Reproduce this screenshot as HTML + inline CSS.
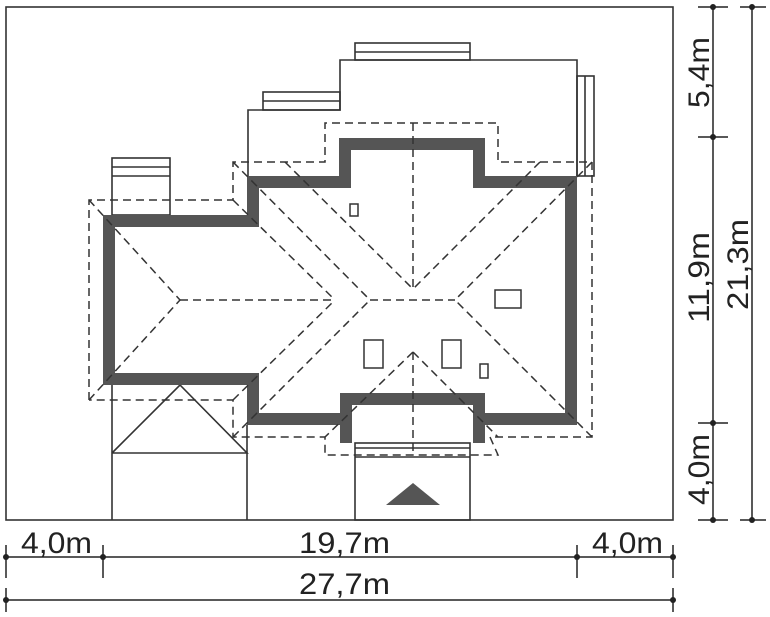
<!DOCTYPE html>
<html><head><meta charset="utf-8"><style>
body{margin:0;background:#fff;}
svg{display:block;}
text{font-family:"Liberation Sans",sans-serif;font-size:30px;fill:#222;}
</style></head><body>
<svg width="770" height="617" viewBox="0 0 770 617" xmlns="http://www.w3.org/2000/svg">
<g fill="none" stroke="#333" stroke-width="1.6">
<rect x="6" y="7" width="667" height="513"/>
<polyline points="248,176 248,110 340,110 340,60 577,60 577,176"/>
<rect x="355" y="43" width="115" height="17"/><line x1="355" y1="52" x2="470" y2="52"/>
<rect x="263" y="92" width="77" height="18"/><line x1="263" y1="101" x2="340" y2="101"/>
<rect x="112" y="158" width="58" height="57"/><line x1="112" y1="167" x2="170" y2="167"/><line x1="112" y1="176" x2="170" y2="176"/>
<rect x="577" y="76" width="17" height="100"/><line x1="585" y1="76" x2="585" y2="176"/>
<polyline points="112,385 112,520"/><polyline points="247,425 247,520"/>
<polyline points="112,453 180,385 247,453 112,453"/>
<rect x="355" y="443" width="115" height="77"/>
<line x1="355" y1="448" x2="470" y2="448"/><line x1="355" y1="457" x2="470" y2="457"/>
</g>
<polygon points="386,505 413,483 440,505" fill="#555"/>
<path fill="#555" fill-rule="evenodd" d="M103,215 L247,215 L247,176 L339,176 L339,138 L485,138 L485,176 L577,176 L577,425 L485,425 L485,443 L473,443 L473,405 L352,405 L352,443 L340,443 L340,425 L247,425 L247,385 L103,385 Z
M115,227 L259,227 L259,188 L351,188 L351,150 L473,150 L473,188 L565,188 L565,413 L485,413 L485,393 L340,393 L340,413 L259,413 L259,373 L115,373 Z"/>
<g fill="none" stroke="#333" stroke-width="1.5" stroke-dasharray="8,5">
<polyline points="89,400 89,200 233,200 233,162 325,162 325,123 498,123 498,162 592,162 592,437 490,437 498,455 498,455 325,455 325,437 233,437 233,400 89,400"/>
<line x1="89" y1="200" x2="180" y2="300"/><line x1="89" y1="400" x2="180" y2="300"/>
<line x1="180" y1="300" x2="335" y2="300"/>
<line x1="233" y1="200" x2="335" y2="300"/><line x1="233" y1="400" x2="335" y2="300"/>
<line x1="233" y1="162" x2="370" y2="300"/><line x1="233" y1="437" x2="370" y2="300"/>
<line x1="285" y1="162" x2="413" y2="289"/><line x1="540" y1="162" x2="413" y2="289"/>
<line x1="413" y1="123" x2="413" y2="289"/>
<line x1="370" y1="300" x2="455" y2="300"/>
<line x1="592" y1="162" x2="455" y2="300"/><line x1="592" y1="437" x2="455" y2="300"/>
<line x1="413" y1="352" x2="413" y2="455"/>
<line x1="413" y1="352" x2="325" y2="437"/><line x1="413" y1="352" x2="498" y2="437"/>
</g>
<g fill="#fff" stroke="#333" stroke-width="1.5">
<rect x="350" y="204" width="8" height="12"/>
<rect x="495" y="290" width="26" height="18"/>
<rect x="364" y="340" width="19" height="28"/>
<rect x="442" y="340" width="19" height="28"/>
<rect x="480" y="364" width="8" height="14"/>
</g>
<g stroke="#222" stroke-width="1.5">
<line x1="713" y1="7" x2="713" y2="520"/><line x1="752" y1="7" x2="752" y2="520"/>
<line x1="698" y1="7" x2="728" y2="7"/><line x1="698" y1="137" x2="728" y2="137"/><line x1="698" y1="423" x2="728" y2="423"/><line x1="698" y1="520" x2="728" y2="520"/>
<line x1="740" y1="7" x2="766" y2="7"/><line x1="740" y1="520" x2="766" y2="520"/>
<line x1="6" y1="557" x2="673" y2="557"/><line x1="6" y1="600" x2="673" y2="600"/>
<line x1="6" y1="545" x2="6" y2="578"/><line x1="103" y1="545" x2="103" y2="578"/><line x1="577" y1="545" x2="577" y2="578"/><line x1="673" y1="545" x2="673" y2="578"/>
<line x1="6" y1="588" x2="6" y2="612"/><line x1="673" y1="588" x2="673" y2="612"/>
</g>
<g fill="#222">
<circle cx="713" cy="7" r="3"/><circle cx="713" cy="137" r="3"/><circle cx="713" cy="423" r="3"/><circle cx="713" cy="520" r="3"/>
<circle cx="752" cy="7" r="3"/><circle cx="752" cy="520" r="3"/>
<circle cx="6" cy="557" r="3"/><circle cx="103" cy="557" r="3"/><circle cx="577" cy="557" r="3"/><circle cx="673" cy="557" r="3"/>
<circle cx="6" cy="600" r="3"/><circle cx="673" cy="600" r="3"/>
</g>
<text x="21" y="553" textLength="71" lengthAdjust="spacingAndGlyphs">4,0m</text>
<text x="299" y="553" textLength="91" lengthAdjust="spacingAndGlyphs">19,7m</text>
<text x="592" y="553" textLength="71" lengthAdjust="spacingAndGlyphs">4,0m</text>
<text x="299" y="594" textLength="91" lengthAdjust="spacingAndGlyphs">27,7m</text>
<text transform="translate(709,108) rotate(-90)" textLength="71" lengthAdjust="spacingAndGlyphs">5,4m</text>
<text transform="translate(709,323) rotate(-90)" textLength="91" lengthAdjust="spacingAndGlyphs">11,9m</text>
<text transform="translate(748,310) rotate(-90)" textLength="91" lengthAdjust="spacingAndGlyphs">21,3m</text>
<text transform="translate(709,505) rotate(-90)" textLength="71" lengthAdjust="spacingAndGlyphs">4,0m</text>
</svg>
</body></html>
